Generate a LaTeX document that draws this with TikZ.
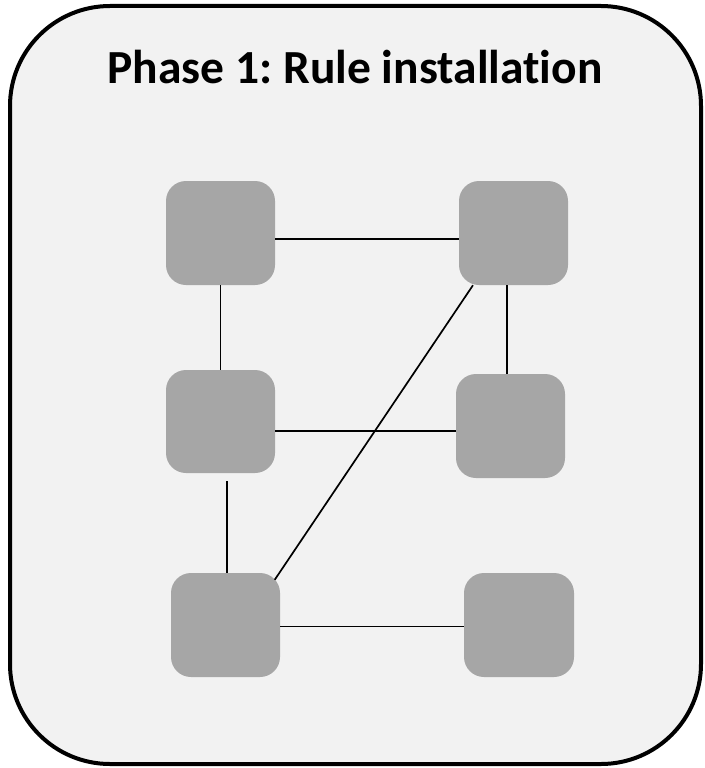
\documentclass[tikz,border=0pt]{standalone}
\usepackage{fontspec}
\setmainfont{Carlito}[Ligatures=NoCommon]
\frenchspacing
\begin{document}
\begin{tikzpicture}[x=1pt,y=-1pt,
  switchbox/.style={fill=boxgray, draw=none, rounded corners=20pt,
    minimum width=109pt, minimum height=104pt, inner sep=0pt},
  link/.style={line width=1.7pt, black}]
\definecolor{panelgray}{HTML}{F2F2F2}
\definecolor{boxgray}{HTML}{A6A6A6}
\useasboundingbox (0,0) rectangle (704,768);
% outer panel
\draw[line width=4pt, fill=panelgray, rounded corners=100pt] (10,6) rectangle (701,764);
\node[anchor=base, font=\bfseries\fontsize{47.5}{57}\selectfont] (title) at (355,84) {Phase 1: Rule installation};
% switches
\node[switchbox] (n1) at (220.5,233) {};
\node[switchbox] (n2) at (513.5,233) {};
\node[switchbox, minimum height=103pt] (n3) at (220.5,421.5) {};
\node[switchbox] (n4) at (510.5,426) {};
\node[switchbox] (n5) at (225.5,625) {};
\node[switchbox, minimum width=110pt] (n6) at (519,625) {};
% links (yshift is measured upwards on the canvas)
\draw[link] ([yshift=-6pt]n1.east) -- ([yshift=-6pt]n2.west);
\draw[link] (n1.south) -- (n3.north);
\draw[link] ([xshift=-6.5pt]n2.south) -- ([xshift=-3.5pt]n4.north);
\draw[link] ([yshift=-9.5pt]n3.east) -- ([yshift=-5pt]n4.west);
\draw[link] ([xshift=6.5pt,yshift=-8pt]n3.south) -- ([xshift=1.5pt]n5.north);
\draw[link] ([xshift=-40.5pt]n2.south) -- ([xshift=-5.5pt,yshift=-7pt]n5.north east);
\draw[link] ([yshift=-1.5pt]n5.east) -- ([yshift=-1.5pt]n6.west);
\end{tikzpicture}
\end{document}
